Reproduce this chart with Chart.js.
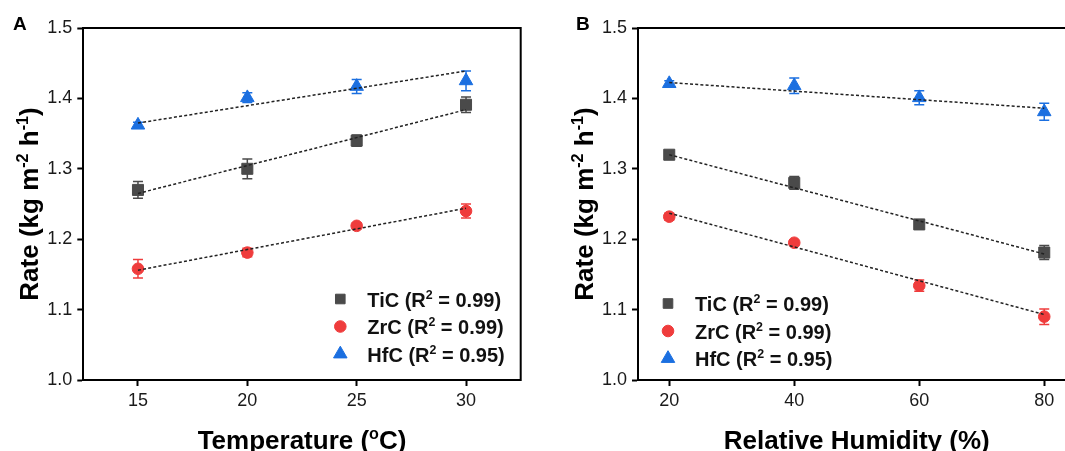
<!DOCTYPE html>
<html>
<head>
<meta charset="utf-8">
<script src="https://cdn.jsdelivr.net/npm/chart.js@4.4.0/dist/chart.umd.min.js"></script>
<style>
  html, body { margin: 0; padding: 0; background: #fff; }
  body { width: 1065px; height: 451px; overflow: hidden; position: relative; }
  .panel { position: absolute; top: 0; }
  #panelA { left: 0; }
  #panelB { left: 530px; }
</style>
</head>
<body>
<div class="panel" id="panelA"><canvas id="chartA" width="530" height="451"></canvas></div>
<div class="panel" id="panelB"><canvas id="chartB" width="560" height="451"></canvas></div>
<script>
// materials
const names = ['TiC', 'ZrC', 'HfC'];
const r2Temp = ['0.99', '0.99', '0.95'];
const r2Rh = ['0.99', '0.99', '0.95'];

// evaporation rate vs temperature
const tempC = [15, 20, 25, 30];
const tempTicks = [15, 20, 25, 30];
const ticTemp = [1.270, 1.300, 1.340, 1.391];
const ticTempErr = [0.012, 0.014, 0.008, 0.011];
const zrcTemp = [1.158, 1.181, 1.219, 1.240];
const zrcTempErr = [0.013, 0.006, 0.004, 0.010];
const hfcTemp = [1.362, 1.401, 1.417, 1.425];
const hfcTempErr = [0.004, 0.007, 0.010, 0.014];
// linear fits, value at first and last temperature
const ticTempFit = [1.265, 1.384];
const zrcTempFit = [1.156, 1.244];
const hfcTempFit = [1.365, 1.439];

// evaporation rate vs relative humidity
const rh = [20, 40, 60, 80];
const rhTicks = [20, 40, 60, 80];
const ticRh = [1.320, 1.280, 1.221, 1.181];
const ticRhErr = [0.004, 0.009, 0.005, 0.010];
const zrcRh = [1.232, 1.195, 1.134, 1.090];
const zrcRhErr = [0.005, 0.003, 0.008, 0.011];
const hfcRh = [1.421, 1.418, 1.401, 1.381];
const hfcRhErr = [0.004, 0.011, 0.010, 0.012];
const ticRhFit = [1.320, 1.179];
const zrcRhFit = [1.237, 1.093];
const hfcRhFit = [1.4225, 1.386];

const rateTicks = [1.0, 1.1, 1.2, 1.3, 1.4, 1.5];

const colors = ['#4a4a4a', '#ef3c3c', '#1b6fe0'];
const styles = ['rect', 'circle', 'triangle'];
const radii = [7.8, 5.8, 7.8];
const FONT = '"Liberation Sans", Arial, sans-serif';

const pts = (xs, ys) => xs.map((x, i) => ({ x: x, y: ys[i] }));

function makeDatasets(xs, series, errs, fits) {
  const sets = [];
  series.forEach((ys, i) => {
    sets.push({
      type: 'scatter',
      label: names[i],
      data: pts(xs, ys),
      errors: errs[i],
      pointStyle: styles[i],
      pointRadius: radii[i],
      pointBackgroundColor: colors[i],
      pointBorderColor: colors[i],
      pointBorderWidth: 1,
      order: 2
    });
  });
  fits.forEach((f, i) => {
    sets.push({
      type: 'line',
      label: names[i] + ' fit',
      data: pts([xs[0], xs[xs.length - 1]], f),
      borderColor: '#222',
      borderWidth: 1.5,
      borderDash: [3, 2.2],
      pointRadius: 0,
      fill: false,
      order: 1
    });
  });
  return sets;
}

// text with superscript parts
function richWidth(ctx, parts, size, weight) {
  let w = 0;
  parts.forEach(p => {
    ctx.font = weight + ' ' + (p.sup ? size * 0.62 : size) + 'px ' + FONT;
    w += ctx.measureText(p.t).width;
  });
  return w;
}
function drawRich(ctx, parts, x, y, size, weight, align) {
  const w = richWidth(ctx, parts, size, weight);
  let cx = align === 'center' ? x - w / 2 : x;
  ctx.textAlign = 'left';
  ctx.textBaseline = 'alphabetic';
  parts.forEach(p => {
    const s = p.sup ? size * 0.62 : size;
    ctx.font = weight + ' ' + s + 'px ' + FONT;
    ctx.fillText(p.t, cx, p.sup ? y - size * 0.38 : y);
    cx += ctx.measureText(p.t).width;
  });
}

const errorBars = {
  id: 'errorBars',
  beforeDatasetsDraw(chart) {
    const ctx = chart.ctx;
    const yScale = chart.scales.y;
    chart.data.datasets.forEach((ds, i) => {
      if (!ds.errors) return;
      const meta = chart.getDatasetMeta(i);
      ctx.save();
      ctx.strokeStyle = ds.pointBackgroundColor;
      ctx.lineWidth = 1.5;
      meta.data.forEach((el, j) => {
        const v = ds.data[j].y, e = ds.errors[j];
        const top = yScale.getPixelForValue(v + e);
        const bot = yScale.getPixelForValue(v - e);
        ctx.beginPath();
        ctx.moveTo(el.x, top); ctx.lineTo(el.x, bot);
        ctx.moveTo(el.x - 5, top); ctx.lineTo(el.x + 5, top);
        ctx.moveTo(el.x - 5, bot); ctx.lineTo(el.x + 5, bot);
        ctx.stroke();
      });
      ctx.restore();
    });
  }
};

const decorations = {
  id: 'decorations',
  afterDraw(chart, args, opts) {
    const ctx = chart.ctx;
    const a = chart.chartArea;
    ctx.save();
    // top and right frame
    ctx.strokeStyle = '#000';
    ctx.lineWidth = 2;
    ctx.beginPath();
    ctx.moveTo(a.left - 1, a.top);
    ctx.lineTo(a.right, a.top);
    ctx.lineTo(a.right, a.bottom + 1);
    ctx.stroke();

    ctx.fillStyle = '#000';
    // panel letter
    ctx.font = 'bold 19px ' + FONT;
    ctx.textAlign = 'left';
    ctx.textBaseline = 'alphabetic';
    ctx.fillText(opts.letter, opts.letterX, 30);

    // axis titles
    drawRich(ctx, opts.xTitle, (a.left + a.right) / 2, 449, 26, 'bold', 'center');
    ctx.save();
    ctx.translate(a.left - 45, (a.top + a.bottom) / 2);
    ctx.rotate(-Math.PI / 2);
    drawRich(ctx, [{ t: 'Rate (kg m' }, { t: '-2', sup: true }, { t: ' h' }, { t: '-1', sup: true }, { t: ')' }], 0, 0, 26, 'bold', 'center');
    ctx.restore();

    // legend
    names.forEach((n, i) => {
      const y = a.bottom + opts.legendY + i * 27.5;
      const x = a.left + opts.legendX;
      ctx.fillStyle = colors[i];
      ctx.strokeStyle = colors[i];
      ctx.lineWidth = 1;
      Chart.helpers.drawPoint(ctx, { pointStyle: styles[i], radius: radii[i] - (i === 0 ? 1 : 0), rotation: 0, borderWidth: 1 }, x, y);
      ctx.fillStyle = '#111';
      drawRich(ctx, [{ t: n + ' (R' }, { t: '2', sup: true }, { t: ' = ' + opts.r2[i] + ')' }], x + 27, y + 7.5, 20, 'bold', 'left');
    });
    ctx.restore();
  }
};

function axisOptions(xMin, xMax, xTicks, yWidth) {
  const tickFont = { family: FONT, size: 18 };
  return {
    x: {
      type: 'linear',
      min: xMin,
      max: xMax,
      afterBuildTicks: s => { s.ticks = xTicks.map(v => ({ value: v })); },
      afterFit: s => { s.height = 71; },
      grid: { drawOnChartArea: false, drawTicks: true, tickLength: 6, tickWidth: 2, tickColor: '#000' },
      border: { display: true, color: '#000', width: 2 },
      ticks: { font: tickFont, color: '#1a1a1a', padding: 4, maxRotation: 0, callback: v => String(v) }
    },
    y: {
      type: 'linear',
      min: 1.0,
      max: 1.5,
      afterBuildTicks: s => { s.ticks = rateTicks.map(v => ({ value: v })); },
      afterFit: s => { s.width = yWidth; },
      grid: { drawOnChartArea: false, drawTicks: true, tickLength: 6, tickWidth: 2, tickColor: '#000' },
      border: { display: true, color: '#000', width: 2 },
      ticks: { font: tickFont, color: '#1a1a1a', padding: 5, callback: v => Number(v).toFixed(1) }
    }
  };
}

new Chart(document.getElementById('chartA'), {
  data: {
    datasets: makeDatasets(tempC, [ticTemp, zrcTemp, hfcTemp], [ticTempErr, zrcTempErr, hfcTempErr], [ticTempFit, zrcTempFit, hfcTempFit])
  },
  options: {
    responsive: false,
    animation: false,
    layout: { padding: { left: 0, right: 9.3, top: 28, bottom: 0 } },
    scales: axisOptions(12.5, 32.5, tempTicks, 83.3),
    plugins: {
      legend: { display: false },
      tooltip: { enabled: false },
      decorations: {
        letter: 'A', letterX: 13,
        xTitle: [{ t: 'Temperature (' }, { t: 'o', sup: true }, { t: 'C)' }],
        legendX: 257, legendY: -81, r2: r2Temp
      }
    }
  },
  plugins: [errorBars, decorations]
});

new Chart(document.getElementById('chartB'), {
  data: {
    datasets: makeDatasets(rh, [ticRh, zrcRh, hfcRh], [ticRhErr, zrcRhErr, hfcRhErr], [ticRhFit, zrcRhFit, hfcRhFit])
  },
  options: {
    responsive: false,
    animation: false,
    layout: { padding: { left: 0, right: 14.5, top: 28, bottom: 0 } },
    scales: axisOptions(15, 85, rhTicks, 108),
    plugins: {
      legend: { display: false },
      tooltip: { enabled: false },
      decorations: {
        letter: 'B', letterX: 46,
        xTitle: [{ t: 'Relative Humidity (%)' }],
        legendX: 30, legendY: -76.5, r2: r2Rh
      }
    }
  },
  plugins: [errorBars, decorations]
});
</script>
</body>
</html>
